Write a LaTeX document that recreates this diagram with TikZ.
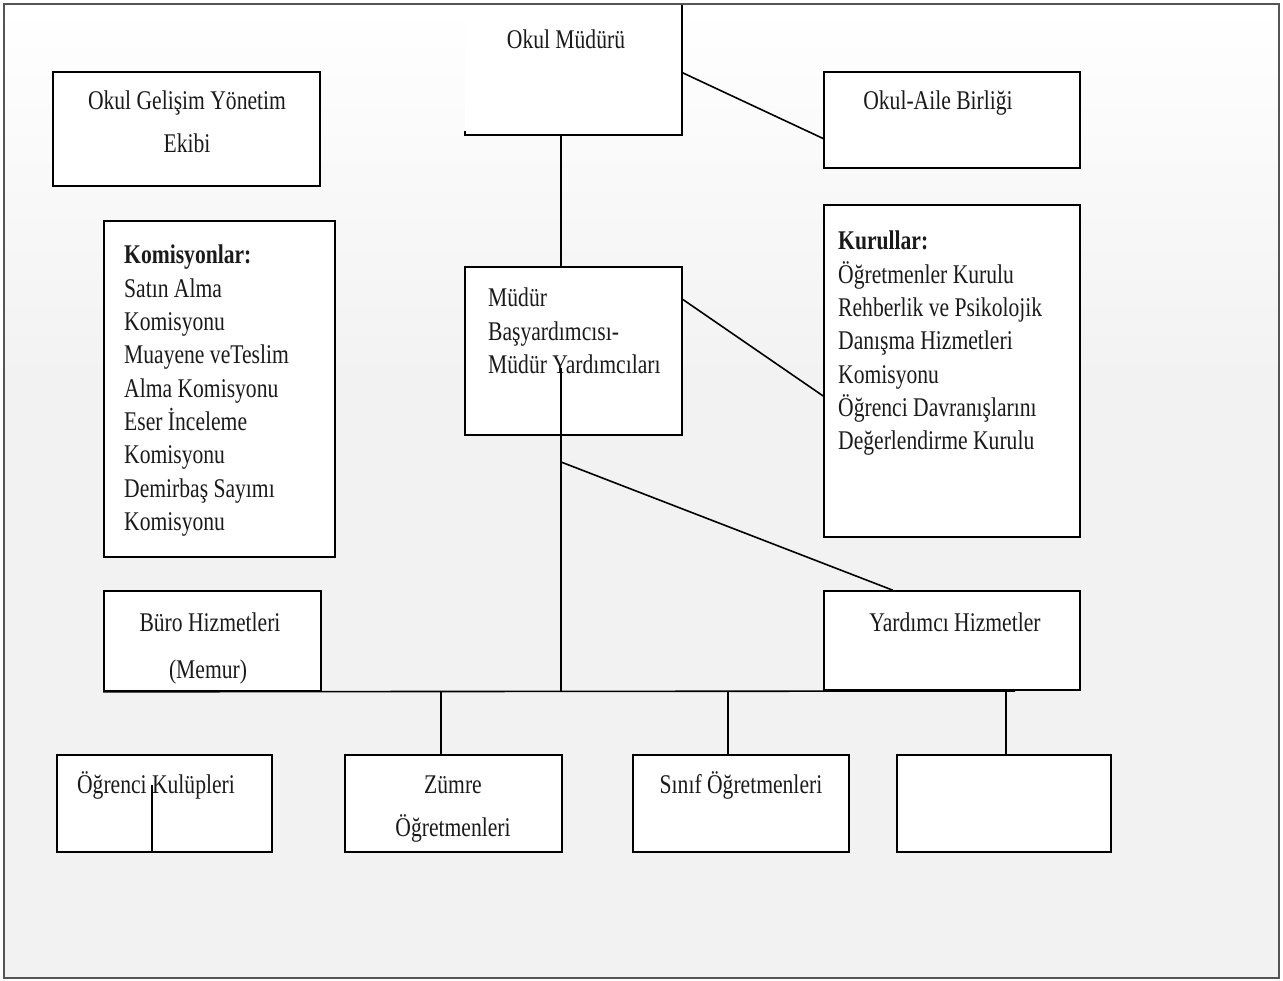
\documentclass[tikz,border=0pt]{standalone}
\usepackage{fontspec}
\setmainfont{Liberation Serif}[FakeStretch=0.8]
\usetikzlibrary{calc}
\definecolor{bgbot}{HTML}{F2F2F2}
\definecolor{framec}{HTML}{555555}
\definecolor{txtc}{HTML}{1A1A1A}
\begin{document}
\begin{tikzpicture}[x=1pt,y=-1pt,
  box/.style={draw=black, line width=1.6pt, fill=white, inner sep=0pt},
  txt/.style={font=\fontsize{27}{33.3}\selectfont, inner sep=0pt, text=txtc},
  conn/.style={line width=1.6pt, draw=black}]
\useasboundingbox (0,0) rectangle (1283,981);
\fill[white] (0,0) rectangle (1283,981);
\fill[bgbot] (4,4) rectangle (1279,978);
\shade[top color=white, bottom color=bgbot] (4,4) rectangle (1279,380);
\draw[framec, line width=2pt] (4,4) rectangle (1279,978);

% boxes
\node[fill=white, inner sep=0pt, minimum width=217pt, minimum height=130pt] (mud) at (573.5,70) {};
\draw[conn] (mud.north east) -- (mud.south east) -- (mud.south west) -- ++(0,-4);
\node[box, minimum width=267pt, minimum height=114pt] (ogye) at (186.5,129) {};
\node[box, minimum width=256pt, minimum height=96pt] (oab) at (952,120) {};
\node[box, minimum width=231pt, minimum height=336pt] (kom) at (219.5,389) {};
\node[box, minimum width=256pt, minimum height=332pt] (kur) at (952,371) {};
\node[box, minimum width=217pt, minimum height=168pt] (myb) at (573.5,351) {};
\node[box, minimum width=217pt, minimum height=100pt] (buro) at (212.5,641) {};
\node[box, minimum width=256pt, minimum height=99pt] (yrd) at (952,640.5) {};
\node[box, minimum width=215pt, minimum height=97pt] (b1) at (164.5,803.5) {};
\node[box, minimum width=217pt, minimum height=97pt] (b2) at (453.5,803.5) {};
\node[box, minimum width=216pt, minimum height=97pt] (b3) at (741,803.5) {};
\node[box, minimum width=214pt, minimum height=97pt] (b4) at (1004,803.5) {};

% texts
\node[txt] (mudT) at (566,39) {Okul Müdürü};
\node[txt] (ogyeT1) at (187,103) {Okul Gelişim Yönetim};
\node[txt] (ogyeT2) at (187,143) {Ekibi};
\node[txt] (oabT) at (938,103) {Okul-Aile Birliği};
\node[txt, anchor=north west, align=left] (komT) at (124,245) {\textbf{Komisyonlar:}\\Satın Alma\\Komisyonu\\Muayene veTeslim\\Alma Komisyonu\\Eser İnceleme\\Komisyonu\\Demirbaş Sayımı\\Komisyonu};
\node[txt, anchor=north west, align=left] (kurT) at (838,231) {\textbf{Kurullar:}\\Öğretmenler Kurulu\\Rehberlik ve Psikolojik\\Danışma Hizmetleri\\Komisyonu\\Öğrenci Davranışlarını\\Değerlendirme Kurulu};
\node[txt, anchor=north west, align=left] (mybT) at (488,288) {Müdür\\Başyardımcısı-\\Müdür Yardımcıları};
\node[txt] (buroT1) at (210,622) {Büro Hizmetleri};
\node[txt] (buroT2) at (208,672) {(Memur)};
\node[txt] (yrdT) at (955,622) {Yardımcı Hizmetler};
\node[txt] (b1T) at (156,785) {Öğrenci Kulüpleri};
\node[txt] (b2T1) at (453,785) {Zümre};
\node[txt] (b2T2) at (453,828) {Öğretmenleri};
\node[txt] (b3T) at (741,785) {Sınıf Öğretmenleri};

% connector helper coordinates
\coordinate (sx) at (561,0);
\coordinate (spinetop) at (561,368);
\coordinate (spinebr) at (561,462);
\coordinate (busR) at (1015,691);
\coordinate (d2) at (441,0);
\coordinate (d3) at (728,0);
\coordinate (d4) at (1006,0);
\coordinate (k1) at (152,785);

% connectors
\draw[conn] (sx |- mud.south) -- (sx |- myb.north);
\draw[conn] (spinetop) -- (sx |- busR);
\draw[conn] (buro.south west) -- (busR);
\draw[conn] (d2 |- busR) -- (d2 |- b2.north);
\draw[conn] (d3 |- busR) -- (d3 |- b3.north);
\draw[conn] (d4 |- busR) -- (d4 |- b4.north);
\draw[conn, line width=1.2pt] (k1) -- (k1 |- b1.south);
\draw[conn] ($(mud.north east)!0.52!(mud.south east)$) -- ($(oab.south west)!0.31!(oab.north west)$);
\draw[conn] ($(myb.north east)!0.196!(myb.south east)$) -- ($(kur.north west)!0.575!(kur.south west)$);
\draw[conn] (spinebr) -- ($(yrd.north west)!0.27!(yrd.north east)$);
\end{tikzpicture}
\end{document}
